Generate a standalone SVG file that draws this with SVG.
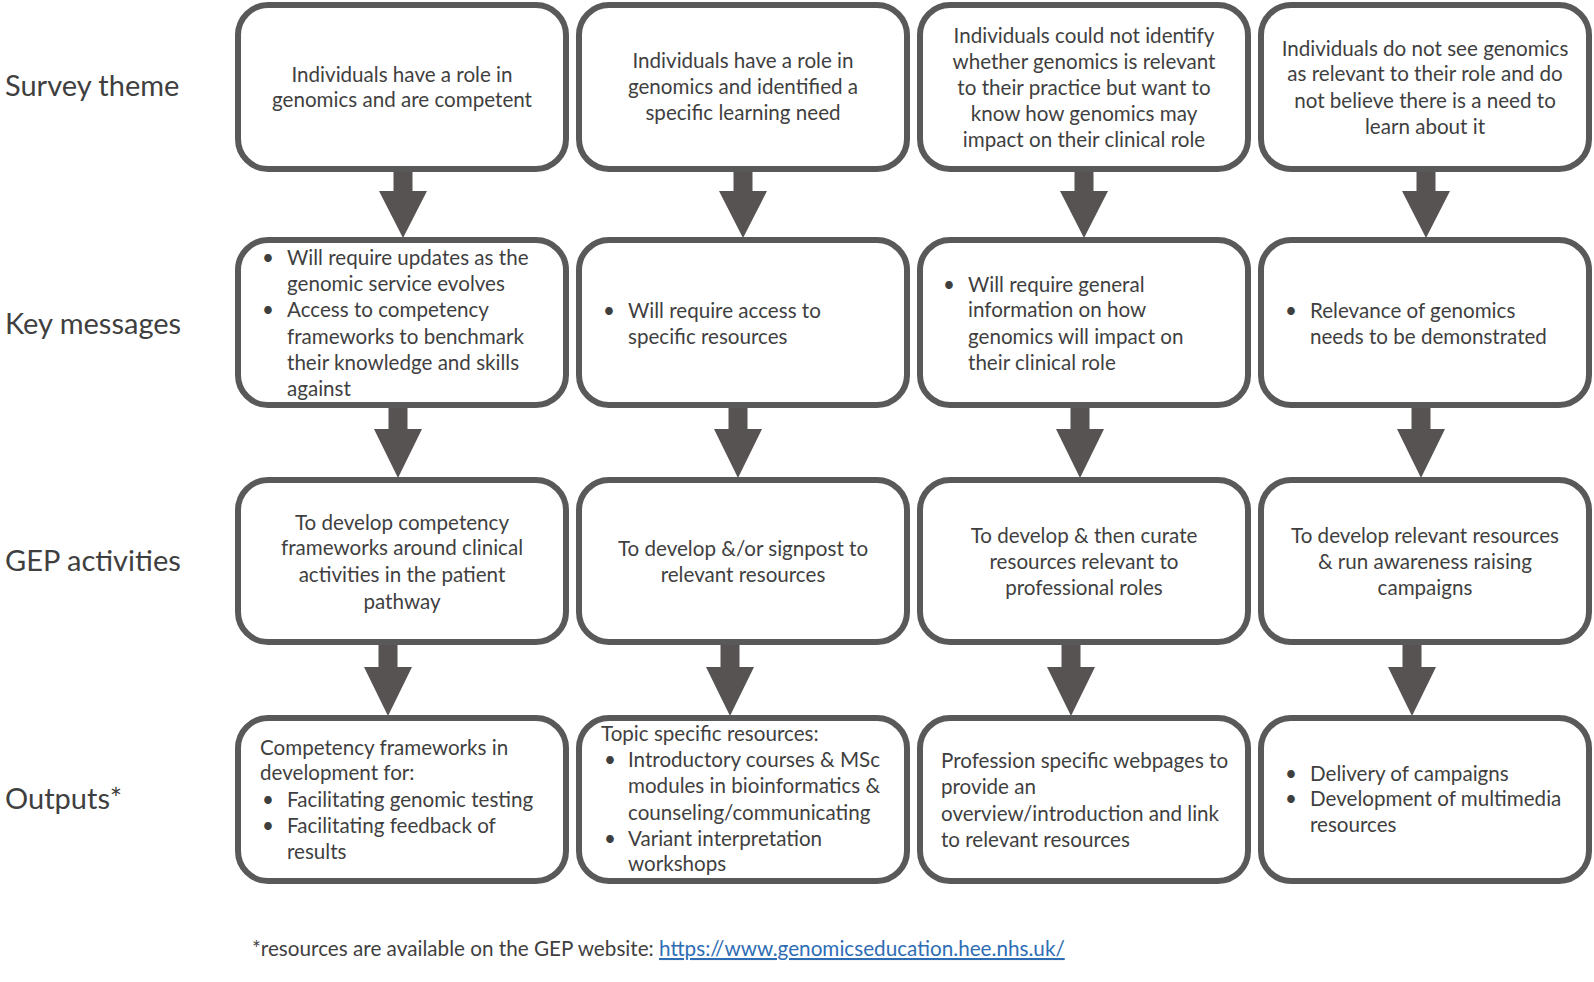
<svg xmlns="http://www.w3.org/2000/svg" width="1594" height="982" viewBox="0 0 1594 982">
<style>
.box{fill:#fff;stroke:#595959;stroke-width:6}
.arr{fill:#575353}
text{font-family:Lato,"Liberation Sans",sans-serif;fill:#3f3f3f}
.t{font-size:20.6px}
.c{text-anchor:middle}
.lbl{font-size:29px}
.ft{font-size:20.7px}
.link{fill:#2e6db4;text-decoration:underline}
</style>
<rect width="1594" height="982" fill="#fff"/>
<g id="labels">
<text class="lbl" x="5" y="96">Survey theme</text>
<text class="lbl" x="5" y="334">Key messages</text>
<text class="lbl" x="5" y="571">GEP activities</text>
<text class="lbl" x="5" y="809">Outputs*</text>
</g>
<g id="connectors">
<polygon class="arr" points="393.5,170 412.5,170 412.5,191 427,191 403,238 379,191 393.5,191"/>
<polygon class="arr" points="733.5,170 752.5,170 752.5,191 767,191 743,238 719,191 733.5,191"/>
<polygon class="arr" points="1074.5,170 1093.5,170 1093.5,191 1108,191 1084,238 1060,191 1074.5,191"/>
<polygon class="arr" points="1416.5,170 1435.5,170 1435.5,191 1450,191 1426,238 1402,191 1416.5,191"/>
<polygon class="arr" points="388.5,406 407.5,406 407.5,429 422,429 398,478 374,429 388.5,429"/>
<polygon class="arr" points="728.5,406 747.5,406 747.5,429 762,429 738,478 714,429 728.5,429"/>
<polygon class="arr" points="1070.5,406 1089.5,406 1089.5,429 1104,429 1080,478 1056,429 1070.5,429"/>
<polygon class="arr" points="1411.5,406 1430.5,406 1430.5,429 1445,429 1421,478 1397,429 1411.5,429"/>
<polygon class="arr" points="378.5,643 397.5,643 397.5,667 412,667 388,716 364,667 378.5,667"/>
<polygon class="arr" points="720.5,643 739.5,643 739.5,667 754,667 730,716 706,667 720.5,667"/>
<polygon class="arr" points="1061.5,643 1080.5,643 1080.5,667 1095,667 1071,716 1047,667 1061.5,667"/>
<polygon class="arr" points="1402.5,643 1421.5,643 1421.5,667 1436,667 1412,716 1388,667 1402.5,667"/>
</g>
<g id="survey1"><rect class="box" x="238" y="5" width="328" height="164" rx="30"/>
<text class="t c" x="402" y="82">Individuals have a role in</text>
<text class="t c" x="402" y="107">genomics and are competent</text></g>
<g id="survey2"><rect class="box" x="579" y="5" width="328" height="164" rx="30"/>
<text class="t c" x="743" y="68">Individuals have a role in</text>
<text class="t c" x="743" y="94">genomics and identified a</text>
<text class="t c" x="743" y="120">specific learning need</text></g>
<g id="survey3"><rect class="box" x="920" y="5" width="328" height="164" rx="30"/>
<text class="t c" x="1084" y="43">Individuals could not identify</text>
<text class="t c" x="1084" y="69">whether genomics is relevant</text>
<text class="t c" x="1084" y="95">to their practice but want to</text>
<text class="t c" x="1084" y="121">know how genomics may</text>
<text class="t c" x="1084" y="147">impact on their clinical role</text></g>
<g id="survey4"><rect class="box" x="1261" y="5" width="328" height="164" rx="30"/>
<text class="t c" x="1425" y="56">Individuals do not see genomics</text>
<text class="t c" x="1425" y="81">as relevant to their role and do</text>
<text class="t c" x="1425" y="108">not believe there is a need to</text>
<text class="t c" x="1425" y="134">learn about it</text></g>

<g id="key1"><rect class="box" x="238" y="240" width="328" height="165" rx="30"/>
<text class="t" x="262" y="265">•</text><text class="t" x="287" y="265">Will require updates as the</text>
<text class="t" x="287" y="291">genomic service evolves</text>
<text class="t" x="262" y="317">•</text><text class="t" x="287" y="317">Access to competency</text>
<text class="t" x="287" y="344">frameworks to benchmark</text>
<text class="t" x="287" y="370">their knowledge and skills</text>
<text class="t" x="287" y="396">against</text></g>
<g id="key2"><rect class="box" x="579" y="240" width="328" height="165" rx="30"/>
<text class="t" x="603" y="318">•</text><text class="t" x="628" y="318">Will require access to</text>
<text class="t" x="628" y="344">specific resources</text></g>
<g id="key3"><rect class="box" x="920" y="240" width="328" height="165" rx="30"/>
<text class="t" x="943" y="292">•</text><text class="t" x="968" y="292">Will require general</text>
<text class="t" x="968" y="317">information on how</text>
<text class="t" x="968" y="344">genomics will impact on</text>
<text class="t" x="968" y="370">their clinical role</text></g>
<g id="key4"><rect class="box" x="1261" y="240" width="328" height="165" rx="30"/>
<text class="t" x="1285" y="318">•</text><text class="t" x="1310" y="318">Relevance of genomics</text>
<text class="t" x="1310" y="344">needs to be demonstrated</text></g>

<g id="gep1"><rect class="box" x="238" y="480" width="328" height="162" rx="30"/>
<text class="t c" x="402" y="530">To develop competency</text>
<text class="t c" x="402" y="555">frameworks around clinical</text>
<text class="t c" x="402" y="582">activities in the patient</text>
<text class="t c" x="402" y="609">pathway</text></g>
<g id="gep2"><rect class="box" x="579" y="480" width="328" height="162" rx="30"/>
<text class="t c" x="743" y="556">To develop &amp;/or signpost to</text>
<text class="t c" x="743" y="582">relevant resources</text></g>
<g id="gep3"><rect class="box" x="920" y="480" width="328" height="162" rx="30"/>
<text class="t c" x="1084" y="543">To develop &amp; then curate</text>
<text class="t c" x="1084" y="569">resources relevant to</text>
<text class="t c" x="1084" y="595">professional roles</text></g>
<g id="gep4"><rect class="box" x="1261" y="480" width="328" height="162" rx="30"/>
<text class="t c" x="1425" y="543">To develop relevant resources</text>
<text class="t c" x="1425" y="569">&amp; run awareness raising</text>
<text class="t c" x="1425" y="595">campaigns</text></g>

<g id="out1"><rect class="box" x="238" y="718" width="328" height="163" rx="30"/>
<text class="t" x="260" y="755">Competency frameworks in</text>
<text class="t" x="260" y="780">development for:</text>
<text class="t" x="262" y="807">•</text><text class="t" x="287" y="807">Facilitating genomic testing</text>
<text class="t" x="262" y="833">•</text><text class="t" x="287" y="833">Facilitating feedback of</text>
<text class="t" x="287" y="859">results</text></g>
<g id="out2"><rect class="box" x="579" y="718" width="328" height="163" rx="30"/>
<text class="t" x="601" y="741">Topic specific resources:</text>
<text class="t" x="604" y="767">•</text><text class="t" x="628" y="767">Introductory courses &amp; MSc</text>
<text class="t" x="628" y="793">modules in bioinformatics &amp;</text>
<text class="t" x="628" y="820">counseling/communicating</text>
<text class="t" x="604" y="846">•</text><text class="t" x="628" y="846">Variant interpretation</text>
<text class="t" x="628" y="871">workshops</text></g>
<g id="out3"><rect class="box" x="920" y="718" width="328" height="163" rx="30"/>
<text class="t" x="941" y="768">Profession specific webpages to</text>
<text class="t" x="941" y="794">provide an</text>
<text class="t" x="941" y="821">overview/introduction and link</text>
<text class="t" x="941" y="847">to relevant resources</text></g>
<g id="out4"><rect class="box" x="1261" y="718" width="328" height="163" rx="30"/>
<text class="t" x="1285" y="781">•</text><text class="t" x="1310" y="781">Delivery of campaigns</text>
<text class="t" x="1285" y="806">•</text><text class="t" x="1310" y="806">Development of multimedia</text>
<text class="t" x="1310" y="832">resources</text></g>

<g id="footer">
<text class="ft" x="252" y="956">*resources are available on the GEP website: <tspan class="link">https://www.genomicseducation.hee.nhs.uk/</tspan></text>
</g>
</svg>
